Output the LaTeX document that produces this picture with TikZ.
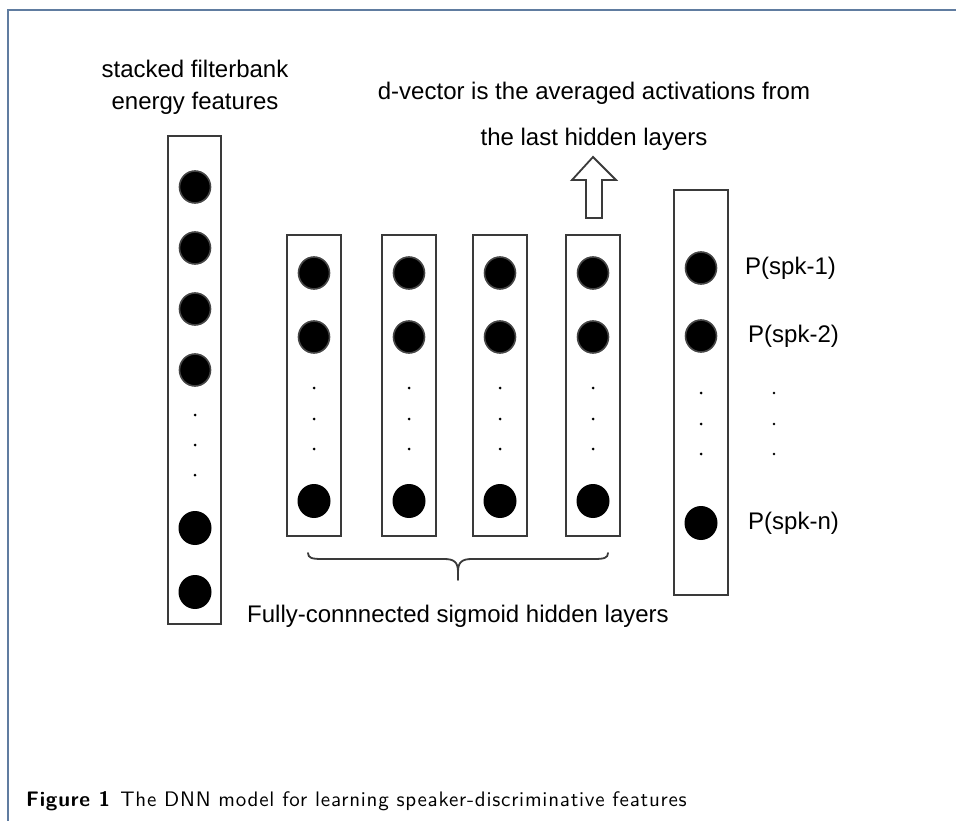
\documentclass[tikz,border=0pt]{standalone}
\usepackage{fontspec}
\setmainfont{Liberation Sans}
\newfontfamily\capfont[Extension=.otf, UprightFont=*-regular, BoldFont=*-bold, LetterSpace=3.7]{lmsans10}
\usetikzlibrary{shapes.geometric}
\definecolor{framecol}{RGB}{96,124,160}
\definecolor{boxcol}{RGB}{58,58,58}
\definecolor{ringcol}{RGB}{70,70,70}
\tikzset{
  lbl/.style={inner sep=0pt, font=\fontsize{24}{29}\selectfont, text=black},
  layerbox/.style={draw=boxcol, line width=2.4pt, fill=white},
  unit/.style={ellipse, fill=black, draw=ringcol, line width=1.6pt, minimum width=31pt, minimum height=32pt, inner sep=0pt},
  unitb/.style={ellipse, fill=black, minimum width=33pt, minimum height=34pt, inner sep=0pt},
  dotmark/.style={circle, fill=black, minimum size=3pt, inner sep=0pt},
}
\newcommand{\layerrect}[5]{% name, x1, y1, x2, y2
  \draw[layerbox] (#2,#3) rectangle (#4,#5);
  \coordinate (#1) at ({(#2+#4)/2},{(#3+#5)/2});
}
\begin{document}
\begin{tikzpicture}[x=1pt,y=-1pt]
\useasboundingbox (0,0) rectangle (956,821);
\fill[white] (0,0) rectangle (956,821);

% outer frame (top and left rules)
\draw[framecol, line width=2pt] (7.5,821) -- (7.5,10) -- (956,10);

% input layer
\node[lbl, align=center, font=\fontsize{24}{32}\selectfont] (intxt) at (195,87) {stacked filterbank\\energy features};
\layerrect{inbox}{168}{136}{221}{624}
\foreach \y [count=\i] in {187,248,309,370} \node[unit] (in\i) at (195,\y) {};
\foreach \y [count=\i] in {415,445,475} \node[dotmark] (indot\i) at (195,\y) {};
\node[unitb] (in5) at (195,528) {};
\node[unitb] (in6) at (195,592) {};

% hidden layers
\foreach \xl/\k in {287/1,382/2,473/3,566/4}{
  \draw[layerbox] (\xl,235) rectangle (\xl+54,536);
  \node[unit] (h\k a) at (\xl+27,273) {};
  \node[unit] (h\k b) at (\xl+27,337) {};
  \node[dotmark] (h\k d1) at (\xl+27,388) {};
  \node[dotmark] (h\k d2) at (\xl+27,419) {};
  \node[dotmark] (h\k d3) at (\xl+27,449) {};
  \node[unitb] (h\k c) at (\xl+27,501) {};
}

% output layer
\layerrect{outbox}{674}{190}{728}{595}
\node[unit] (o1) at (701,268) {};
\node[unit] (o2) at (701,336) {};
\foreach \y [count=\i] in {393,424,454} \node[dotmark] (odot\i) at (701,\y) {};
\node[unitb] (o3) at (701,523) {};
\node[lbl, anchor=west] (p1) at (745,268) {P(spk-1)};
\node[lbl, anchor=west] (p2) at (748,336) {P(spk-2)};
\foreach \y [count=\i] in {393,424,454} \node[dotmark, minimum size=2.6pt] (pdot\i) at (774,\y) {};
\node[lbl, anchor=west] (pn) at (748,523) {P(spk-n)};

% d-vector annotation with hollow arrow
\node[lbl, align=center, font=\fontsize{24}{46}\selectfont] (dtxt) at (594,116) {d-vector is the averaged activations from\\the last hidden layers};
\draw[boxcol, line width=1.8pt, fill=white, line join=miter]
  (586,218) -- (586,180) -- (572,180) -- (593,157) -- (616,180) -- (602,180) -- (602,218) -- cycle;

% brace under the hidden layers
\coordinate (bl) at (308,553);
\coordinate (br) at (608,553);
\coordinate (btip) at (458,580);
\draw[boxcol, line width=1.8pt, line cap=round, line join=round]
  (bl) .. controls (308,558) and (312,559) .. (322,559) -- (444,559)
  .. controls (454,559) and (458,562) .. (458,572) -- (btip);
\draw[boxcol, line width=1.8pt, line cap=round, line join=round]
  (br) .. controls (608,558) and (604,559) .. (594,559) -- (472,559)
  .. controls (462,559) and (458,562) .. (458,572);
\node[lbl] (htxt) at (458,616) {Fully-connnected sigmoid hidden layers};

% caption
\node[inner sep=0pt, anchor=base west, font=\capfont\fontsize{21}{25}\selectfont] (cap) at (26,806)
  {\textbf{Figure 1}\hspace{0.45em}The DNN model for learning speaker-discriminative features};
\end{tikzpicture}
\end{document}
